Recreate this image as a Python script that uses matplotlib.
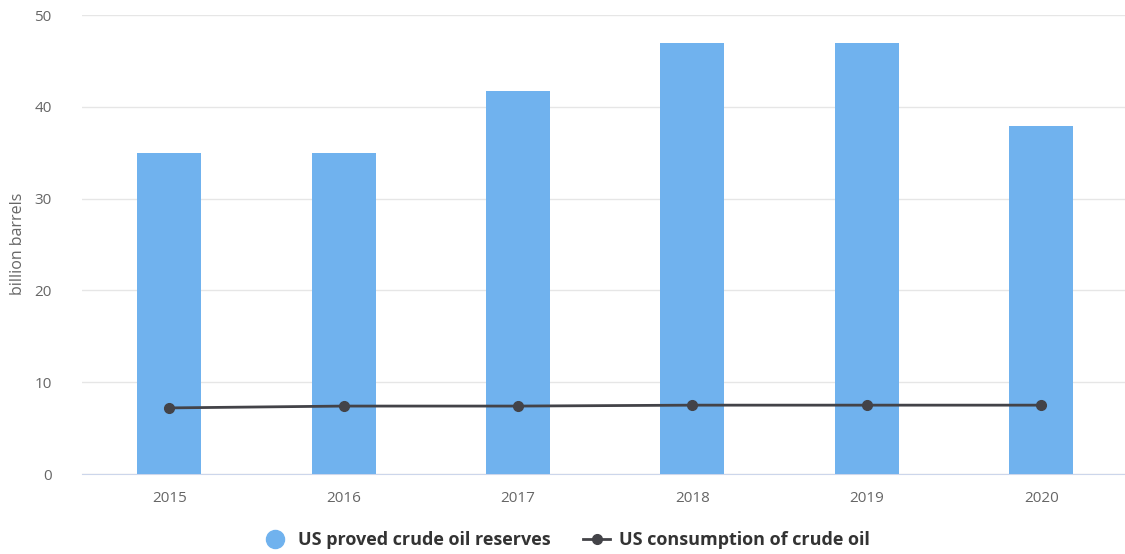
import matplotlib.pyplot as plt
import numpy as np
from matplotlib.lines import Line2D

years = ["2015", "2016", "2017", "2018", "2019", "2020"]
reserves = [35.0, 35.0, 41.7, 47.0, 47.0, 37.9]
consumption = [7.2, 7.4, 7.4, 7.5, 7.5, 7.5]

bar_color = "#70b2ee"
line_color = "#434348"

plt.rcParams["font.family"] = ["Open Sans", "DejaVu Sans"]

fig = plt.figure(figsize=(11.25, 5.54), dpi=100)
ax = fig.add_axes([0.073, 0.1444, 0.930, 0.8285])

x = np.arange(len(years))
ax.bar(x, reserves, width=0.367, color=bar_color, zorder=2)
ax.plot(x, consumption, color=line_color, lw=2, marker="o", ms=7, zorder=3)

ax.set_xlim(-0.5, len(years) - 0.5)
ax.set_ylim(0, 50)
ax.set_yticks([0, 10, 20, 30, 40, 50])
ax.set_xticks(x)
ax.set_xticklabels(years)
ax.tick_params(axis="both", length=0, labelsize=11, labelcolor="#666666")
ax.tick_params(axis="x", pad=12)
ax.tick_params(axis="y", pad=22)
ax.grid(axis="y", color="#e6e6e6", lw=1, zorder=0)
for s in ["top", "right", "left"]:
    ax.spines[s].set_visible(False)
ax.spines["bottom"].set_color("#ccd6eb")
ax.spines["bottom"].set_zorder(1)

fig.text(0.016, 0.56, "billion barrels", rotation=90, ha="center", va="center",
         fontsize=11.5, color="#666666")

handles = [
    Line2D([], [], marker="o", ls="none", color=bar_color, ms=13),
    Line2D([], [], marker="o", color=line_color, lw=2, ms=7),
]
leg = fig.legend(handles, ["US proved crude oil reserves", "US consumption of crude oil"],
                 loc="center", bbox_to_anchor=(0.503, 0.025), ncol=2, frameon=False,
                 prop={"weight": "bold", "size": 13}, handlelength=1.5,
                 columnspacing=1.8, handletextpad=0.5)
for t in leg.get_texts():
    t.set_color("#333333")

fig.savefig("out.png", dpi=100)
